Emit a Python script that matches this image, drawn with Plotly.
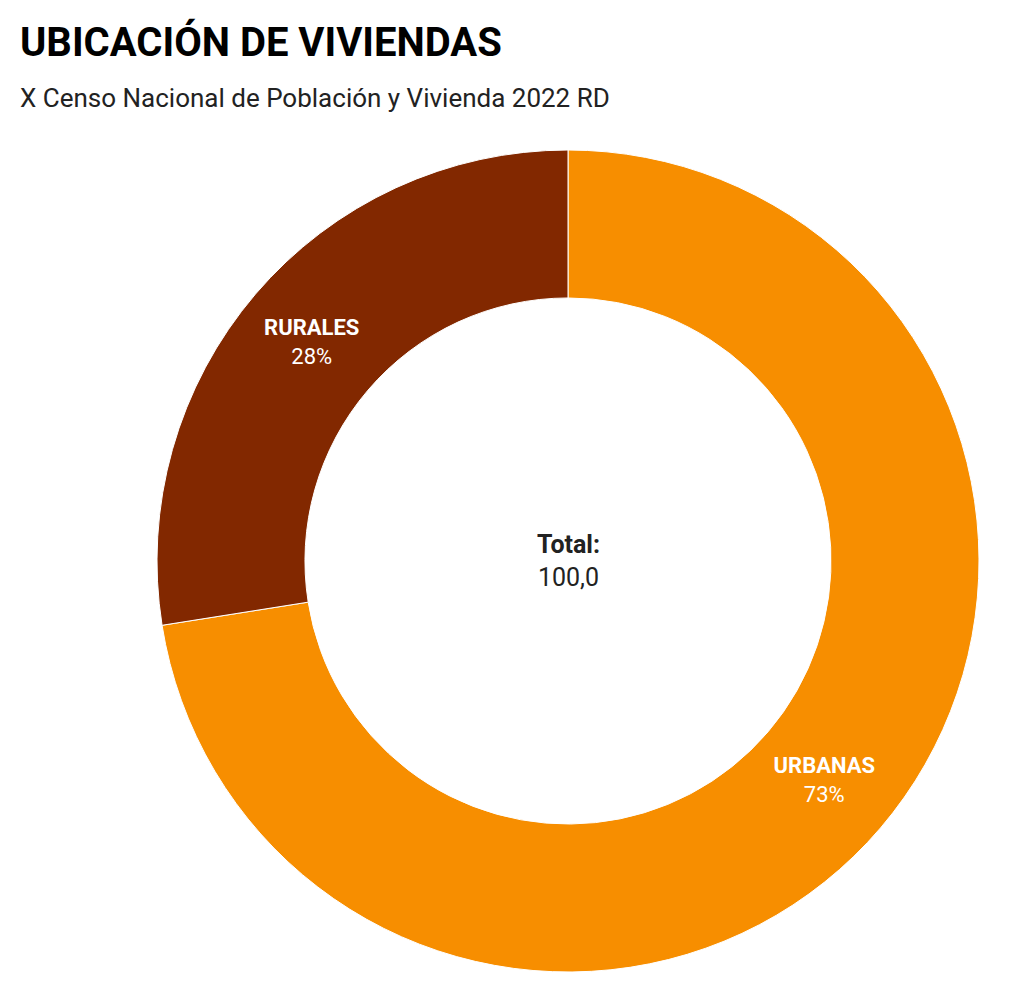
import plotly.graph_objects as go

# ubicacion de viviendas - censo 2022 RD
labels = ['URBANAS', 'RURALES']
values = [72.5, 27.5]
colors = ['#F78E00', '#822800']
total_label = '100,0'

W, H = 1024, 1002
# page has an 8px body margin, so positions are shifted back by 8
cx, cy, r = 560, 553, 411  # donut centre / radius in px

fig = go.Figure(go.Pie(
    labels=labels,
    values=values,
    hole=0.64,
    sort=False,
    direction='clockwise',
    rotation=0,
    marker=dict(colors=colors, line=dict(color='white', width=1)),
    texttemplate='<b>%{label}</b><br>%{percent:.0%}',
    textposition='inside',
    insidetextorientation='horizontal',
    textfont=dict(family='Roboto', size=22, color='white'),
    hoverinfo='label+percent',
    showlegend=False,
    domain=dict(x=[(cx - r) / W, (cx + r) / W],
                y=[1 - (cy + r) / H, 1 - (cy - r) / H]),
))

fig.add_annotation(
    x=cx / W, y=1 - cy / H, xref='paper', yref='paper',
    text='<b>Total:</b><br>' + total_label,
    showarrow=False, align='center',
    font=dict(family='Roboto', size=25, color='#222222'),
)
fig.add_annotation(
    x=10 / W, y=1 - 34 / H, xref='paper', yref='paper',
    xanchor='left', yanchor='middle',
    text='<b>UBICACIÓN DE VIVIENDAS</b>',
    showarrow=False,
    font=dict(family='Roboto', size=40, color='#000000'),
)
fig.add_annotation(
    x=10 / W, y=1 - 90 / H, xref='paper', yref='paper',
    xanchor='left', yanchor='middle',
    text='X Censo Nacional de Población y Vivienda 2022 RD',
    showarrow=False,
    font=dict(family='Roboto', size=26, color='#222222'),
)

fig.update_layout(
    width=W, height=H,
    margin=dict(l=0, r=0, t=0, b=0),
    paper_bgcolor='white',
    font=dict(family='Roboto'),
)
fig.write_html('out.html')
